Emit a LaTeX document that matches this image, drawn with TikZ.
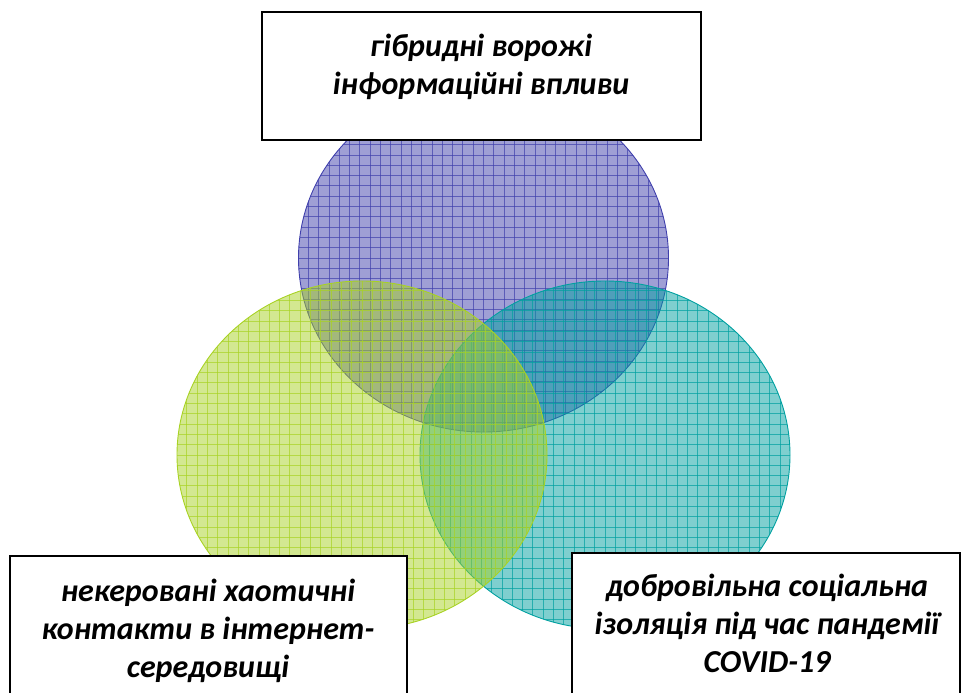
\documentclass[tikz,border=0pt]{standalone}
\usepackage{fontspec}
\setmainfont{Carlito}
\definecolor{cTop}{RGB}{64,64,172}
\definecolor{cLeft}{RGB}{168,210,36}
\definecolor{cRight}{RGB}{0,160,160}
\newcommand\vennblob[3]{%
  \fill[#3, fill opacity=0.5] (#1,#2) ellipse [x radius=185pt, y radius=174pt];
  \begin{scope}
    \clip (#1,#2) ellipse [x radius=185pt, y radius=174pt];
    \foreach \k in {-18,...,18} {
      \draw[#3, opacity=0.7, line width=0.9pt] (#1+\k*10.3, #2-180) -- (#1+\k*10.3, #2+180);
      \draw[#3, opacity=0.7, line width=0.9pt] (#1-190, #2+\k*10.3) -- (#1+190, #2+\k*10.3);
    }
  \end{scope}
  \draw[#3, line width=0.9pt] (#1,#2) ellipse [x radius=185pt, y radius=174pt];
}
\tikzset{
  lbl/.style={font=\fontsize{32}{38}\selectfont\bfseries\itshape, align=center, inner sep=0pt},
  box/.style={draw=black, line width=1.6pt, fill=white},
}
\begin{document}
\begin{tikzpicture}[x=1pt, y=-1pt]
  \useasboundingbox (0,0) rectangle (962,693);
  \clip (0,0) rectangle (962,693);
  \vennblob{483.5}{258}{cTop}
  \vennblob{605}{455}{cRight}
  \vennblob{362}{455}{cLeft}
  % boxes
  \draw[box] (262,12) rectangle (701,140);
  \draw[box] (10,556) rectangle (407,720);
  \draw[box] (572,553) rectangle (960,720);
  \node[lbl] (t1) at (481,67) {гібридні ворожі\\інформаційні впливи};
  \node[lbl] (t2) at (208,631) {некеровані хаотичні\\контакти в інтернет-\\середовищі};
  \node[lbl] (t3) at (767,623) {добровільна соціальна\\ізоляція під час пандемії\\COVID-19};
\end{tikzpicture}
\end{document}
